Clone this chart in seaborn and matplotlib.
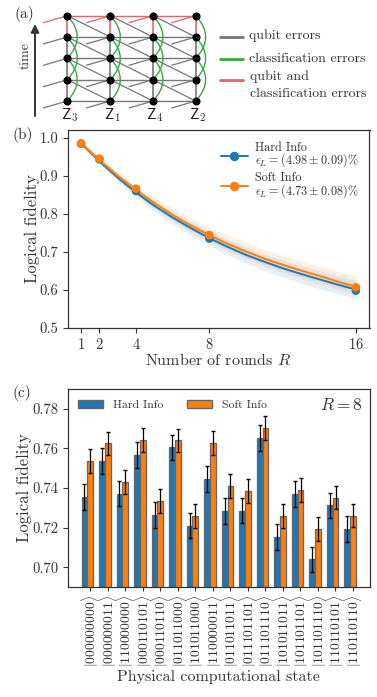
#!/usr/bin/env python3
# -*- coding: utf-8 -*-
import numpy as np
import pandas as pd
import seaborn as sns
import matplotlib.pyplot as plt
from matplotlib.lines import Line2D
from matplotlib.patches import Patch, PathPatch
from matplotlib.path import Path

# ---- panel (a) schematic, pixel positions of the lattice
node_x = [67.3, 110.3, 153.0, 195.7]
node_y = [15.7, 37.0, 58.3, 79.7, 101.0]
stab_labels = ['Z_3', 'Z_1', 'Z_4', 'Z_2']
legend_a = ['qubit errors', 'classification errors']

# ---- panel (b)
rounds = [1, 2, 4, 8, 16]
hard_pts = [0.984, 0.943, 0.860, 0.735, 0.598]
soft_pts = [0.985, 0.945, 0.866, 0.744, 0.607]

fit_r = list(range(1, 17))
hard_fit = [.985, .938, .895, .856, .821, .790, .762, .736, .713, .692, .674, .657, .642, .628, .614, .601]
soft_fit = [.985, .941, .900, .862, .828, .797, .769, .744, .721, .701, .682, .666, .651, .637, .622, .608]
hard_low = [.980, .930, .884, .843, .806, .773, .743, .716, .692, .670, .651, .634, .618, .603, .590, .577]
hard_up = [.992, .947, .906, .869, .836, .806, .779, .755, .733, .713, .695, .679, .664, .651, .637, .625]
soft_low = [.980, .933, .889, .849, .813, .781, .752, .726, .702, .681, .662, .645, .629, .614, .600, .587]
soft_up = [.993, .950, .911, .875, .843, .814, .788, .764, .743, .724, .706, .690, .676, .663, .649, .636]

# ---- panel (c)
states = ['000000000', '000000011', '110000000', '000110101', '000110110', '011011000',
          '101011000', '110000011', '011011011', '011101101', '011101110', '101011011',
          '101101101', '101101110', '110110101', '110110110']
hard_vals = [.7355, .7538, .7372, .7565, .7265, .7605, .7210, .7446,
             .7283, .7286, .7653, .7153, .7371, .7039, .7312, .7192]
soft_vals = [.7537, .7625, .7430, .7643, .7333, .7640, .7260, .7628,
             .7409, .7386, .7704, .7258, .7391, .7194, .7352, .7261]
hard_err = [.0065] * 16
soft_err = [.0060] * 16

BLUE = '#1f77b4'
ORANGE = '#ff7f0e'
DARK = '#333333'

sns.set_theme(style='ticks')
plt.rcParams['font.family'] = ['cmr10', 'DejaVu Serif']
plt.rcParams['mathtext.fontset'] = 'cm'
plt.rcParams['axes.formatter.use_mathtext'] = True
plt.rcParams['axes.unicode_minus'] = False
plt.rcParams['text.color'] = DARK
plt.rcParams['axes.labelcolor'] = DARK
plt.rcParams['xtick.color'] = DARK
plt.rcParams['ytick.color'] = DARK
plt.rcParams['axes.edgecolor'] = DARK
plt.rcParams['axes.linewidth'] = 0.9

W, H = 377, 697
fig = plt.figure(figsize=(W / 100, H / 100), dpi=100)


def box(left, top, right, bottom):
    return [left / W, 1 - bottom / H, (right - left) / W, (bottom - top) / H]


# ******************** panel (a) ********************
ax_a = fig.add_axes([0, 0, 1, 1], zorder=5)
ax_a.set_xlim(0, W)
ax_a.set_ylim(H, 0)
ax_a.axis('off')
ax_a.patch.set_alpha(0)

GRAY = '#777777'
RED = '#e0686c'
GREEN = '#35a845'
for i, x in enumerate(node_x):
    for j, y in enumerate(node_y):
        # the stub coming in from the left
        ax_a.plot([x - 24, x], [y + 7, y], color=RED if j == 0 else GRAY, lw=0.9, zorder=1)
        if i < 3:
            ax_a.plot([x, node_x[i + 1]], [y, y], color=RED if j == 0 else GRAY, lw=1.0, zorder=1)
        if j < 4:
            ax_a.plot([x, x], [y, node_y[j + 1]], color=RED if j == 0 else GRAY, lw=1.2, zorder=1)
        if i < 3 and j < 4:
            ax_a.plot([x, node_x[i + 1]], [y, node_y[j + 1]], color=GRAY, lw=0.9, zorder=1)
        if j < 3:
            arc = Path([(x, y), (x + 20, node_y[j + 1]), (x, node_y[j + 2])],
                       [Path.MOVETO, Path.CURVE3, Path.CURVE3])
            ax_a.add_patch(PathPatch(arc, fc='none', ec=GREEN, lw=1.0, zorder=2))
    ax_a.scatter([x] * 5, node_y, s=34, color='black', zorder=3, linewidths=0)
    ax_a.text(x + 2, 115, r'$\mathsf{%s}$' % stab_labels[i], ha='center', va='center',
              fontsize=11, color='#222222')

ax_a.annotate('', xy=(35, 24), xytext=(35, 116),
              arrowprops=dict(arrowstyle='-|>', color='#333333', lw=1.4, shrinkA=0, shrinkB=0))
ax_a.text(26, 56, 'time', rotation=90, ha='center', va='center', fontsize=10)

ax_a.plot([220, 243], [37, 37], color=GRAY, lw=2)
ax_a.plot([220, 243], [58.5, 58.5], color=GREEN, lw=2)
ax_a.plot([220, 243], [79.5, 79.5], color=RED, lw=2)
ax_a.text(249, 36, legend_a[0], va='center', fontsize=10)
ax_a.text(249, 59, legend_a[1], va='center', fontsize=10)
ax_a.text(250, 77, 'qubit and', va='center', fontsize=10)
ax_a.text(250, 94, 'classification errors', va='center', fontsize=10)

ax_a.text(14, 14, '(a)', fontsize=11, va='center')
ax_a.text(12, 135, '(b)', fontsize=11, va='center')
ax_a.text(12, 393, '(c)', fontsize=11, va='center')

# ******************** panel (b) ********************
ax_b = fig.add_axes(box(67.5, 130, 369.5, 328))
for low, up, col in [(hard_low, hard_up, BLUE), (soft_low, soft_up, ORANGE)]:
    ax_b.fill_between(fit_r, low, up, color=col, alpha=0.11, lw=0)
    ax_b.fill_between(fit_r, np.mean([low, up], axis=0) - 0.006,
                      np.mean([low, up], axis=0) + 0.006, color=col, alpha=0.08, lw=0)

fits = pd.DataFrame({'R': fit_r * 2, 'F': hard_fit + soft_fit,
                     'info': ['Hard'] * 16 + ['Soft'] * 16})
pts = pd.DataFrame({'R': rounds * 2, 'F': hard_pts + soft_pts,
                    'info': ['Hard'] * 5 + ['Soft'] * 5})
pal = {'Hard': BLUE, 'Soft': ORANGE}
sns.lineplot(data=fits, x='R', y='F', hue='info', palette=pal, lw=1.4, legend=False, ax=ax_b)
sns.scatterplot(data=pts, x='R', y='F', hue='info', palette=pal, s=38, linewidth=0,
                legend=False, ax=ax_b, zorder=4)
ax_b.set_xlim(0.26, 16.74)
ax_b.set_ylim(0.5, 1.02)
ax_b.set_xticks(rounds)
ax_b.set_yticks([0.5, 0.6, 0.7, 0.8, 0.9, 1.0])
ax_b.set_yticklabels(['0.5', '0.6', '0.7', '0.8', '0.9', '1.0'])
ax_b.tick_params(labelsize=10.5, length=3.5, width=0.8, pad=3)
ax_b.set_xlabel(r'Number of rounds $R$', fontsize=11.5, labelpad=0)
ax_b.set_ylabel('Logical fidelity', fontsize=12, labelpad=0)
handles_b = [Line2D([], [], color=BLUE, marker='o', ms=5.8, lw=1.4),
             Line2D([], [], color=ORANGE, marker='o', ms=5.8, lw=1.4)]
labels_b = ['Hard Info\n' + r'$\epsilon_L = (4.98 \pm 0.09)\%$',
            'Soft Info\n' + r'$\epsilon_L = (4.73 \pm 0.08)\%$']
leg_b = ax_b.legend(handles_b, labels_b, loc='upper left', frameon=False, fontsize=8.8,
                    bbox_to_anchor=(0.507, 0.94), borderaxespad=0, borderpad=0,
                    handlelength=2.2, handletextpad=0.6, labelspacing=0.25)
for t in leg_b.get_texts():
    t.set_linespacing(0.8)

# ******************** panel (c) ********************
ax_c = fig.add_axes(box(67.5, 389, 370, 587))
bars = pd.DataFrame({'state': states * 2, 'fid': hard_vals + soft_vals,
                     'info': ['Hard Info'] * 16 + ['Soft Info'] * 16})
sns.barplot(data=bars, x='state', y='fid', hue='info', palette=[BLUE, ORANGE], width=0.68,
            errorbar=None, edgecolor='#666666', linewidth=0.9, saturation=1, legend=False, ax=ax_c)
pos = np.arange(16)
ax_c.errorbar(pos - 0.17, hard_vals, yerr=hard_err, fmt='none', ecolor='black', elinewidth=0.9, capsize=1.5)
ax_c.errorbar(pos + 0.17, soft_vals, yerr=soft_err, fmt='none', ecolor='black', elinewidth=0.9, capsize=1.5)
ax_c.set_xlim(-1.14, 16.14)
ax_c.set_ylim(0.69, 0.79)
ax_c.set_yticks([0.70, 0.72, 0.74, 0.76, 0.78])
ax_c.set_yticklabels(['0.70', '0.72', '0.74', '0.76', '0.78'])
ax_c.set_xticks(pos + 0.15)
ax_c.set_xticklabels([r'$|%s\rangle$' % s for s in states], rotation=90, fontsize=9.8)
ax_c.tick_params(axis='y', labelsize=10.5, length=3.5, width=0.8, pad=3)
ax_c.tick_params(axis='x', length=3, width=0.8, pad=3)
ax_c.set_xlabel('Physical computational state', fontsize=11.5, labelpad=2)
ax_c.set_ylabel('Logical fidelity', fontsize=12, labelpad=0)
handles_c = [Patch(fc=BLUE, ec='#666666'), Patch(fc=ORANGE, ec='#666666')]
ax_c.legend(handles_c, ['Hard Info', 'Soft Info'], loc='upper left', ncol=2, frameon=False,
            fontsize=8.5, handlelength=2.1, handleheight=0.75, handletextpad=0.85,
            columnspacing=2.0, bbox_to_anchor=(0.0, 1.0), borderaxespad=0.5)
ax_c.text(0.975, 0.92, r'$R = 8$', transform=ax_c.transAxes, ha='right', va='center', fontsize=12.5)

fig.savefig('out.png', dpi=100)
